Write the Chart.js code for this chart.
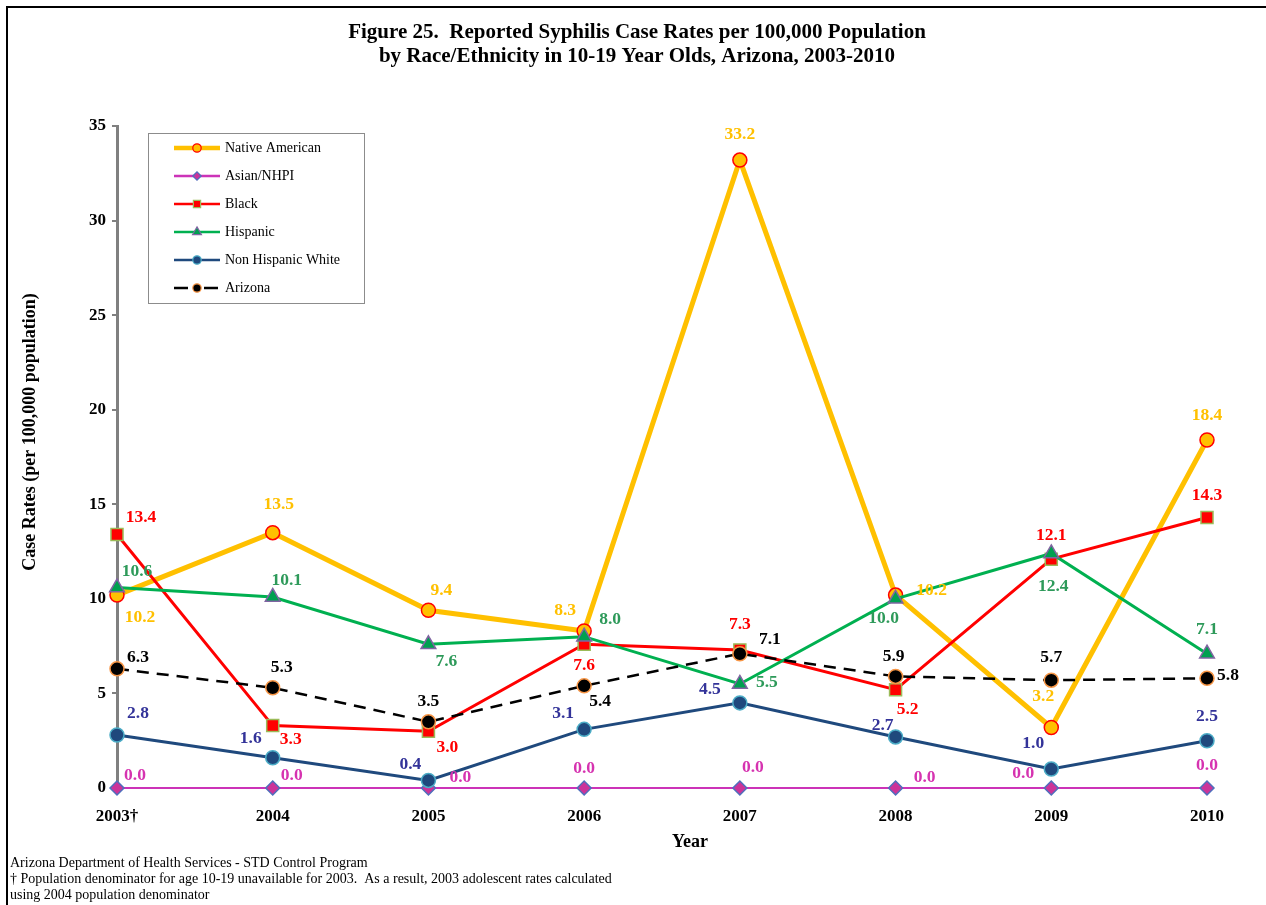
<!DOCTYPE html>
<html>
<head>
<meta charset="utf-8">
<script src="https://cdn.jsdelivr.net/npm/chart.js@4.4.0/dist/chart.umd.min.js"></script>
<style>
  html, body { margin: 0; padding: 0; background: #fff; }
  #wrap { position: relative; width: 1266px; height: 905px; overflow: hidden; }
  #frame { position: absolute; left: 6px; top: 6px; width: 1270px; height: 910px; border-left: 2px solid #000; border-top: 2px solid #000; }
  #grafico { position: absolute; left: 0; top: 0; }
</style>
</head>
<body>
<div id="wrap">
  <div id="frame"></div>
  <canvas id="grafico" width="1266" height="905"></canvas>
</div>
<script>
const years = ['2003\u2020', '2004', '2005', '2006', '2007', '2008', '2009', '2010'];
const nativeAmerican = [10.2, 13.5, 9.4, 8.3, 33.2, 10.2, 3.2, 18.4];
const asianNHPI = [0.0, 0.0, 0.0, 0.0, 0.0, 0.0, 0.0, 0.0];
const black = [13.4, 3.3, 3.0, 7.6, 7.3, 5.2, 12.1, 14.3];
const hispanic = [10.6, 10.1, 7.6, 8.0, 5.5, 10.0, 12.4, 7.1];
const nonHispanicWhite = [2.8, 1.6, 0.4, 3.1, 4.5, 2.7, 1.0, 2.5];
const arizona = [6.3, 5.3, 3.5, 5.4, 7.1, 5.9, 5.7, 5.8];
const yTicks = [0, 5, 10, 15, 20, 25, 30, 35];

// where each value label sits, relative to its point (px)
const naLabelPos = [[23, 22], [6, -28], [13, -20], [-19, -21], [0, -26], [36, -5], [-8, -31], [0, -24]];
const asianLabelPos = [[18, -13], [19, -13], [32, -11], [0, -20], [13, -21], [29, -11], [-28, -15], [0, -23]];
const blackLabelPos = [[24, -17], [18, 14], [19, 16], [0, 21], [0, -25], [12, 20], [0, -24], [0, -22]];
const hispLabelPos = [[20, -16], [14, -16], [18, 17], [26, -17], [27, -1], [-12, 20], [2, 33], [0, -24]];
const nhwLabelPos = [[21, -22], [-22, -19], [-18, -16], [-21, -16], [-30, -13], [-13, -11], [-18, -26], [0, -24]];
const azLabelPos = [[21, -11], [9, -20], [0, -20], [16, 16], [30, -14], [-2, -20], [0, -23], [21, -3]];

const serif = '"Liberation Serif", "Times New Roman", serif';

const series = [
  { label: 'Native American', data: nativeAmerican, line: '#FFC000', width: 5, fill: '#FFC000', edge: '#FF0000', shape: 'circle', r: 7, text: '#FFC000', pos: naLabelPos, order: 6 },
  { label: 'Asian/NHPI', data: asianNHPI, line: '#CC33B8', width: 2, fill: '#CC3399', edge: '#4F6FBD', shape: 'rectRot', r: 7, text: '#D633B0', pos: asianLabelPos, order: 5 },
  { label: 'Black', data: black, line: '#FF0000', width: 3, fill: '#FF0000', edge: '#9BBB59', shape: 'rect', r: 8.5, text: '#FF0000', pos: blackLabelPos, order: 3 },
  { label: 'Hispanic', data: hispanic, line: '#00B050', width: 3, fill: '#00A050', edge: '#8064A2', shape: 'triangle', r: 8.5, text: '#2E9A5A', pos: hispLabelPos, order: 2 },
  { label: 'Non Hispanic White', data: nonHispanicWhite, line: '#1F497D', width: 3, fill: '#1F497D', edge: '#4BACC6', shape: 'circle', r: 7, text: '#333399', pos: nhwLabelPos, order: 4 },
  { label: 'Arizona', data: arizona, line: '#000000', width: 2.5, fill: '#000000', edge: '#F79646', shape: 'circle', r: 7, text: '#000000', pos: azLabelPos, order: 1, dash: [12, 8] }
];

const valueLabels = {
  id: 'valueLabels',
  afterDatasetsDraw(chart) {
    const ctx = chart.ctx;
    ctx.save();
    ctx.font = 'bold 17.5px ' + serif;
    ctx.textAlign = 'center';
    ctx.textBaseline = 'middle';
    chart.data.datasets.forEach((ds, i) => {
      const meta = chart.getDatasetMeta(i);
      const s = series[i];
      ctx.fillStyle = s.text;
      meta.data.forEach((pt, j) => {
        ctx.fillText(ds.data[j].toFixed(1), pt.x + s.pos[j][0], pt.y + s.pos[j][1]);
      });
    });
    ctx.restore();
  }
};

const extras = {
  id: 'extras',
  afterDraw(chart) {
    const ctx = chart.ctx;
    ctx.save();
    // titulo
    ctx.fillStyle = '#000';
    ctx.textAlign = 'center';
    ctx.textBaseline = 'middle';
    ctx.font = 'bold 21px ' + serif;
    ctx.fillText('Figure 25.  Reported Syphilis Case Rates per 100,000 Population', 637, 33);
    ctx.fillText('by Race/Ethnicity in 10-19 Year Olds, Arizona, 2003-2010', 637, 57);
    ctx.font = 'bold 18px ' + serif;
    ctx.fillText('Year', 690, 842);
    ctx.save();
    ctx.translate(30, 432);
    ctx.rotate(-Math.PI / 2);
    ctx.fillText('Case Rates (per 100,000 population)', 0, 0);
    ctx.restore();
    // notas
    ctx.textAlign = 'left';
    ctx.font = '14px ' + serif;
    ctx.fillText('Arizona Department of Health Services - STD Control Program', 10, 863);
    ctx.fillText('\u2020 Population denominator for age 10-19 unavailable for 2003.  As a result, 2003 adolescent rates calculated', 10, 879);
    ctx.fillText('using 2004 population denominator', 10, 895);

    // legenda
    ctx.fillStyle = '#fff';
    ctx.fillRect(148, 133, 216, 170);
    ctx.strokeStyle = '#8c8c8c';
    ctx.lineWidth = 1;
    ctx.strokeRect(148.5, 133.5, 216, 170);
    series.forEach((s, i) => {
      const y = 148 + i * 28;
      ctx.strokeStyle = s.line;
      ctx.lineWidth = s.width === 5 ? 4.5 : 2.5;
      if (s.dash) ctx.setLineDash([14, 16]); else ctx.setLineDash([]);
      ctx.beginPath();
      ctx.moveTo(174, y);
      ctx.lineTo(220, y);
      ctx.stroke();
      ctx.setLineDash([]);
      ctx.fillStyle = s.fill;
      ctx.strokeStyle = s.edge;
      ctx.lineWidth = 1.2;
      Chart.helpers.drawPoint(ctx, { pointStyle: s.shape, radius: s.r * 0.6, rotation: 0, borderWidth: 1.2 }, 197, y);
      ctx.fillStyle = '#000';
      ctx.font = '14px ' + serif;
      ctx.fillText(s.label, 225, y);
    });
    ctx.restore();
  }
};

const ctx = document.getElementById('grafico');
new Chart(ctx, {
  type: 'line',
  data: {
    labels: years,
    datasets: series.map(s => ({
      label: s.label,
      data: s.data,
      borderColor: s.line,
      borderWidth: s.width,
      borderDash: s.dash || [],
      backgroundColor: s.fill,
      pointStyle: s.shape,
      pointRadius: s.r,
      pointBackgroundColor: s.fill,
      pointBorderColor: s.edge,
      pointBorderWidth: 1.5,
      tension: 0,
      order: s.order,
      clip: false
    }))
  },
  options: {
    responsive: false,
    animation: false,
    events: [],
    layout: { padding: { left: 10, top: 126, right: 59, bottom: 45 } },
    plugins: {
      legend: { display: false },
      title: { display: false },
      tooltip: { enabled: false }
    },
    scales: {
      x: {
        offset: false,
        grid: { display: false },
        border: { display: false },
        ticks: { color: '#000', padding: 10, font: { family: serif, size: 17, weight: 'bold' } },
        afterFit: scale => { scale.height = 72; }
      },
      y: {
        min: 0,
        max: 35,
        afterBuildTicks: scale => { scale.ticks = yTicks.map(v => ({ value: v })); },
        grid: { drawOnChartArea: false, color: '#808080', tickLength: 5, lineWidth: 2 },
        border: { color: '#808080', width: 3 },
        ticks: { color: '#000', padding: 6, font: { family: serif, size: 17, weight: 'bold' } },
        afterFit: scale => { scale.width = 107; }
      }
    }
  },
  plugins: [valueLabels, extras]
});
</script>
</body>
</html>
